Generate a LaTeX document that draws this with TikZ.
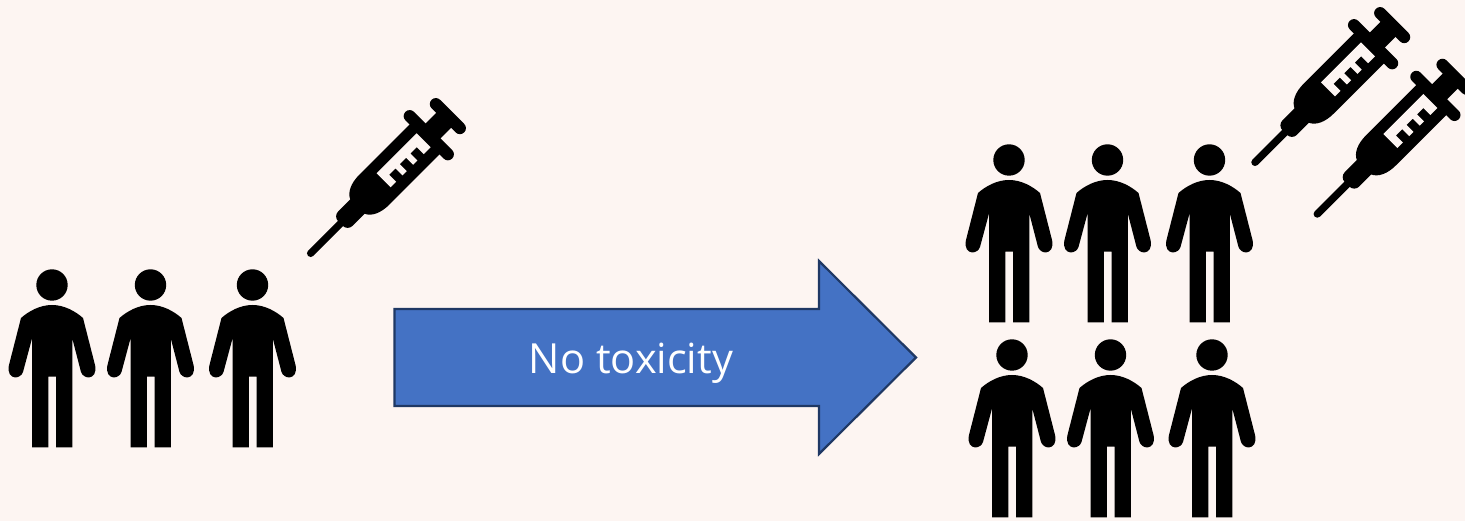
\documentclass[tikz,border=0pt]{standalone}
\usepackage{fontspec}
\setmainfont{Open Sans}
\definecolor{bgc}{HTML}{FDF5F2}
\definecolor{arrowfill}{HTML}{4472C4}
\definecolor{arrowline}{HTML}{1F3864}
\tikzset{
  x=1pt,y=1pt,
  personpic/.pic={
    \fill[black] (0,0) circle (15.7);
    \fill[black] (0,-20) .. controls (-12,-20) and (-23,-26) .. (-31,-33)
      -- (-43,-80) .. controls (-45,-88) and (-41,-92) .. (-37,-92.5)
      .. controls (-33,-92.5) and (-30,-90) .. (-29,-87)
      -- (-20,-53.5) -- (-20,-162.5) -- (-3.7,-162.5) -- (-3.7,-91.7)
      -- (4,-91.7) -- (4,-162.5) -- (20.3,-162.5) -- (20.3,-53.5)
      -- (29,-87) .. controls (30,-90) and (33,-92.5) .. (37,-92.5)
      .. controls (41,-92) and (45,-88) .. (43,-80)
      -- (31,-33) .. controls (23,-26) and (12,-20) .. (0,-20) -- cycle;
  },
  syringepic/.pic={
    \begin{scope}[rotate=45]
    \fill[black,rounded corners=3.6pt] (-3.7,-3.7) rectangle (50,3.7);
    \fill[black,rounded corners=7pt] (42,-10.2) rectangle (76,10.2);
    \fill[black] (66,-10) .. controls (69,-17) and (78,-21.2) .. (90,-21.2)
       -- (162,-21.2) -- (162,21.2) -- (90,21.2)
       .. controls (78,21.2) and (69,17) .. (66,10) -- cycle;
    \fill[black,rounded corners=5.9pt] (161,-33) rectangle (173,33);
    \fill[black] (170,-10.6) rectangle (190,10.6);
    \fill[black,rounded corners=5.9pt] (188,-23) rectangle (200,23);
    \fill[bgc] (103.2,-9.9) -- (103.2,9.9) -- (159.8,9.9) -- (159.8,-9.9)
      -- (150,-9.9) -- (150,0) -- (141,0) -- (141,-9.9)
      -- (135,-9.9) -- (135,0) -- (126,0) -- (126,-9.9)
      -- (120,-9.9) -- (120,0) -- (111,0) -- (111,-9.9) -- cycle;
    \end{scope}
  }
}
\begin{document}
\begin{tikzpicture}
\path[fill=bgc] (0,0) rectangle (1465,521);
\useasboundingbox (0,0) rectangle (1465,521);
\pic at (52,236) {personpic};
\pic at (150.5,236) {personpic};
\pic at (252.5,236) {personpic};
\pic at (1009,361) {personpic};
\pic at (1107.5,361) {personpic};
\pic at (1209.5,361) {personpic};
\pic at (1012,166) {personpic};
\pic at (1110.5,166) {personpic};
\pic at (1212,166) {personpic};
\pic at (310.7,267.7) {syringepic};
\pic at (1255,358.7) {syringepic};
\pic at (1317.3,307) {syringepic};
\path[fill=arrowfill,draw=arrowline,line width=2.2pt] (394.5,212) -- (819,212) -- (819,260) -- (916,163.5) -- (819,67) -- (819,115) -- (394.5,115) -- cycle;
\node[text=white,font=\fontsize{41.5}{50}\selectfont,inner sep=0pt,anchor=base] (label) at (631,147) {No toxicity};
\end{tikzpicture}
\end{document}
